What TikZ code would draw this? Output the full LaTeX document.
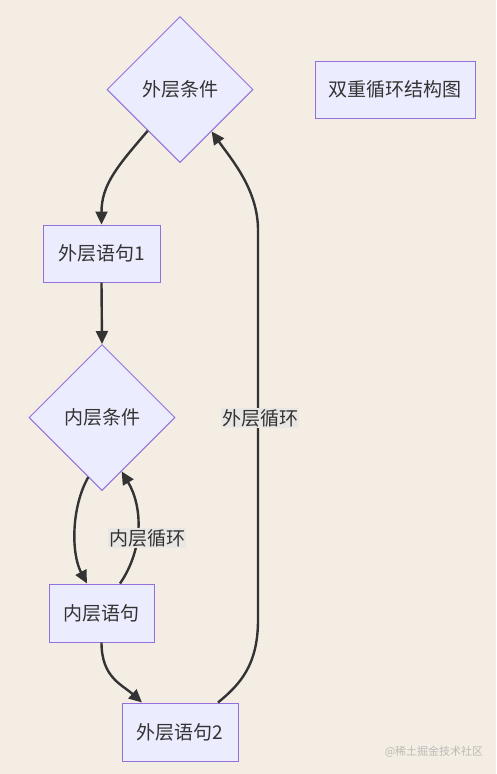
\documentclass[tikz,border=0pt]{standalone}
\usepackage{fontspec}
\setmainfont{Noto Sans CJK SC}
\usetikzlibrary{arrows.meta, shapes.geometric}
\definecolor{mBack}{HTML}{F3EDE4}
\definecolor{mFill}{HTML}{ECECFF}
\definecolor{mLine}{HTML}{9370DB}
\definecolor{mEdge}{HTML}{333333}
\definecolor{mLabel}{HTML}{E9E7E4}
\definecolor{mMark}{HTML}{BDBAB6}

\begin{document}
\begin{tikzpicture}[x=1pt, y=-1pt, font=\fontsize{19}{22}\selectfont,
    cond/.style={diamond, draw=mLine, fill=mFill, line width=1pt, minimum width=146pt,
      minimum height=146pt, inner sep=0pt, text=mEdge},
    stmt/.style={rectangle, draw=mLine, fill=mFill, line width=1pt, minimum height=57pt, text=mEdge},
    flow/.style={draw=mEdge, line width=2.4pt, -{Triangle[length=13pt, width=12pt]}},
    loopLabel/.style={fill=mLabel, text=mEdge, inner sep=1pt}]
    \fill[mBack] (0,0) rectangle (496,774);
    \useasboundingbox (0,0) rectangle (496,774);
    % nodes
    \node[cond] (outerCond) at (180,89.5) {外层条件};
    \node[stmt, minimum width=160pt] (title) at (395,89.5) {双重循环结构图};
    \node[stmt, minimum width=117pt] (outerA) at (101.5,253.5) {外层语句1};
    \node[cond] (innerCond) at (102,417.5) {内层条件};
    \node[stmt, minimum width=105pt, minimum height=58pt] (innerStmt) at (101.5,613) {内层语句};
    \node[stmt, minimum width=116pt, minimum height=58pt] (outerB) at (180,732) {外层语句2};
    % edges
    \draw[flow] (outerCond.-128) .. controls +(-30,35) and +(0,-40) .. (outerA.north);
    \draw[flow] (outerA.south) -- (innerCond.north);
    \draw[flow] (innerCond.-103) .. controls +(-17,30) and +(-16,-30) .. ([xshift=-14.5pt]innerStmt.north);
    \draw[flow] ([xshift=18.5pt]innerStmt.north) .. controls +(24,-35) and +(21,35) .. (innerCond.-70);
    \draw[flow] (innerStmt.south) .. controls +(0,35) and +(-20,-18) .. ([xshift=-38pt]outerB.north);
    \draw[flow] ([xshift=38pt]outerB.north) .. controls +(22,-18) and (258,665) .. (258,620)
      -- (258,230) .. controls (258,190) and (232,160) .. (outerCond.-53);
    % labels
    \node[loopLabel] (innerLoop) at (147,538) {内层循环};
    \node[loopLabel] (outerLoop) at (260,418) {外层循环};
    \node[text=mMark, font=\fontsize{11}{13}\selectfont] (mark) at (434,752) {@稀土掘金技术社区};
\end{tikzpicture}
\end{document}
